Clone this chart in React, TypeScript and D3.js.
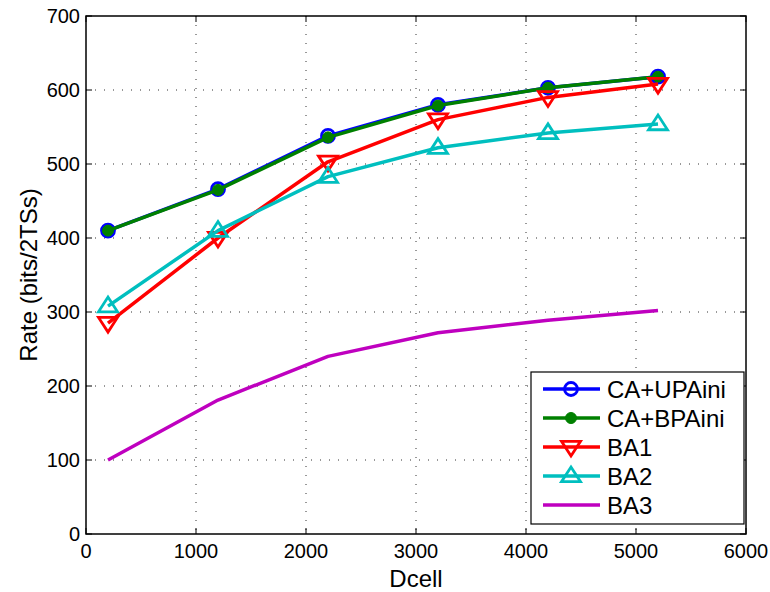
import React from "react";
import * as d3 from "d3";

const dcell = [200, 1200, 2200, 3200, 4200, 5200];
const caUPAini = [410, 466, 538, 580, 603, 618];
const caBPAini = [410, 465, 536, 579, 603, 618];
const ba1 = [285, 400, 503, 560, 590, 608];
const ba2 = [308, 410, 483, 522, 542, 554];
const ba3 = [100, 181, 240, 272, 289, 302];
const xTicks = [0, 1000, 2000, 3000, 4000, 5000, 6000];
const yTicks = [0, 100, 200, 300, 400, 500, 600, 700];

type Marker = "circle" | "dot" | "down" | "up" | "none";
const series: { name: string; values: number[]; color: string; marker: Marker }[] = [
  { name: "CA+UPAini", values: caUPAini, color: "#0000ff", marker: "circle" },
  { name: "CA+BPAini", values: caBPAini, color: "#008000", marker: "dot" },
  { name: "BA1", values: ba1, color: "#ff0000", marker: "down" },
  { name: "BA2", values: ba2, color: "#00bfbf", marker: "up" },
  { name: "BA3", values: ba3, color: "#bf00bf", marker: "none" },
];

const W = 770;
const H = 592;
const left = 86;
const right = 746;
const top = 16;
const bottom = 534;
const font = "'Liberation Sans', Arial, Helvetica, sans-serif";

function MarkerShape({ kind, x, y, color }: { kind: Marker; x: number; y: number; color: string }) {
  if (kind === "circle")
    return <circle cx={x} cy={y} r={6.5} fill="none" stroke={color} strokeWidth={2.8} />;
  if (kind === "dot") return <circle cx={x} cy={y} r={5.5} fill={color} stroke={color} strokeWidth={1} />;
  const s = 9.5;
  if (kind === "down") {
    return (
      <path
        d={`M${x - s},${y - s * 0.6}L${x + s},${y - s * 0.6}L${x},${y + s * 0.95}Z`}
        fill="none"
        stroke={color}
        strokeWidth={2.8}
      />
    );
  }
  if (kind === "up") {
    return (
      <path
        d={`M${x - s},${y + s * 0.6}L${x + s},${y + s * 0.6}L${x},${y - s * 0.95}Z`}
        fill="none"
        stroke={color}
        strokeWidth={2.8}
      />
    );
  }
  return null;
}

export default function App() {
  const x = d3.scaleLinear().domain([0, 6000]).range([left, right]);
  const y = d3.scaleLinear().domain([0, 700]).range([bottom, top]);
  const line = d3
    .line<[number, number]>()
    .x((d) => x(d[0]))
    .y((d) => y(d[1]));

  const legendX = 531;
  const legendY = 372;
  const legendW = 213;
  const legendH = 152;
  const rowH = 29;

  return (
    <svg width={W} height={H} style={{ position: "absolute", left: 0, top: 0, background: "#fff" }}>
      <rect x={0} y={0} width={W} height={H} fill="#fff" />
      {/* grid */}
      {xTicks.slice(1, -1).map((t) => (
        <line key={"gx" + t} x1={x(t)} x2={x(t)} y1={top} y2={bottom} stroke="#333" strokeWidth={1} strokeDasharray="1,8" />
      ))}
      {yTicks.slice(1, -1).map((t) => (
        <line key={"gy" + t} x1={left} x2={right} y1={y(t)} y2={y(t)} stroke="#333" strokeWidth={1} strokeDasharray="1,8" />
      ))}
      {/* series */}
      {series.map((s) => {
        const pts = dcell.map((d, i) => [d, s.values[i]] as [number, number]);
        return (
          <g key={s.name}>
            <path d={line(pts) || ""} fill="none" stroke={s.color} strokeWidth={3.5} strokeLinejoin="round" />
            {pts.map((p, i) => (
              <MarkerShape key={i} kind={s.marker} x={x(p[0])} y={y(p[1])} color={s.color} />
            ))}
          </g>
        );
      })}
      {/* box & ticks */}
      <rect x={left} y={top} width={right - left} height={bottom - top} fill="none" stroke="#000" strokeWidth={1.5} />
      {xTicks.map((t) => (
        <g key={"tx" + t}>
          <line x1={x(t)} x2={x(t)} y1={bottom} y2={bottom - 6} stroke="#000" strokeWidth={1} />
          <line x1={x(t)} x2={x(t)} y1={top} y2={top + 6} stroke="#000" strokeWidth={1} />
          <text x={x(t)} y={bottom + 24} textAnchor="middle" fontFamily={font} fontSize={20}>
            {t}
          </text>
        </g>
      ))}
      {yTicks.map((t) => (
        <g key={"ty" + t}>
          <line x1={left} x2={left + 6} y1={y(t)} y2={y(t)} stroke="#000" strokeWidth={1} />
          <line x1={right} x2={right - 6} y1={y(t)} y2={y(t)} stroke="#000" strokeWidth={1} />
          <text x={left - 6} y={y(t) + 7} textAnchor="end" fontFamily={font} fontSize={20}>
            {t}
          </text>
        </g>
      ))}
      <text x={(left + right) / 2} y={587} textAnchor="middle" fontFamily={font} fontSize={24}>
        Dcell
      </text>
      <text
        transform={`translate(37,${(top + bottom) / 2}) rotate(-90)`}
        textAnchor="middle"
        fontFamily={font}
        fontSize={24}
      >
        Rate (bits/2TSs)
      </text>
      {/* legend */}
      <rect x={legendX} y={legendY} width={legendW} height={legendH} fill="#fff" stroke="#000" strokeWidth={1.2} />
      {series.map((s, i) => {
        const cy = legendY + 17 + i * rowH;
        return (
          <g key={"lg" + s.name}>
            <line x1={543} x2={600} y1={cy} y2={cy} stroke={s.color} strokeWidth={3.5} />
            <MarkerShape kind={s.marker} x={571} y={cy} color={s.color} />
            <text x={607} y={cy + 8.5} fontFamily={font} fontSize={24}>
              {s.name}
            </text>
          </g>
        );
      })}
    </svg>
  );
}
